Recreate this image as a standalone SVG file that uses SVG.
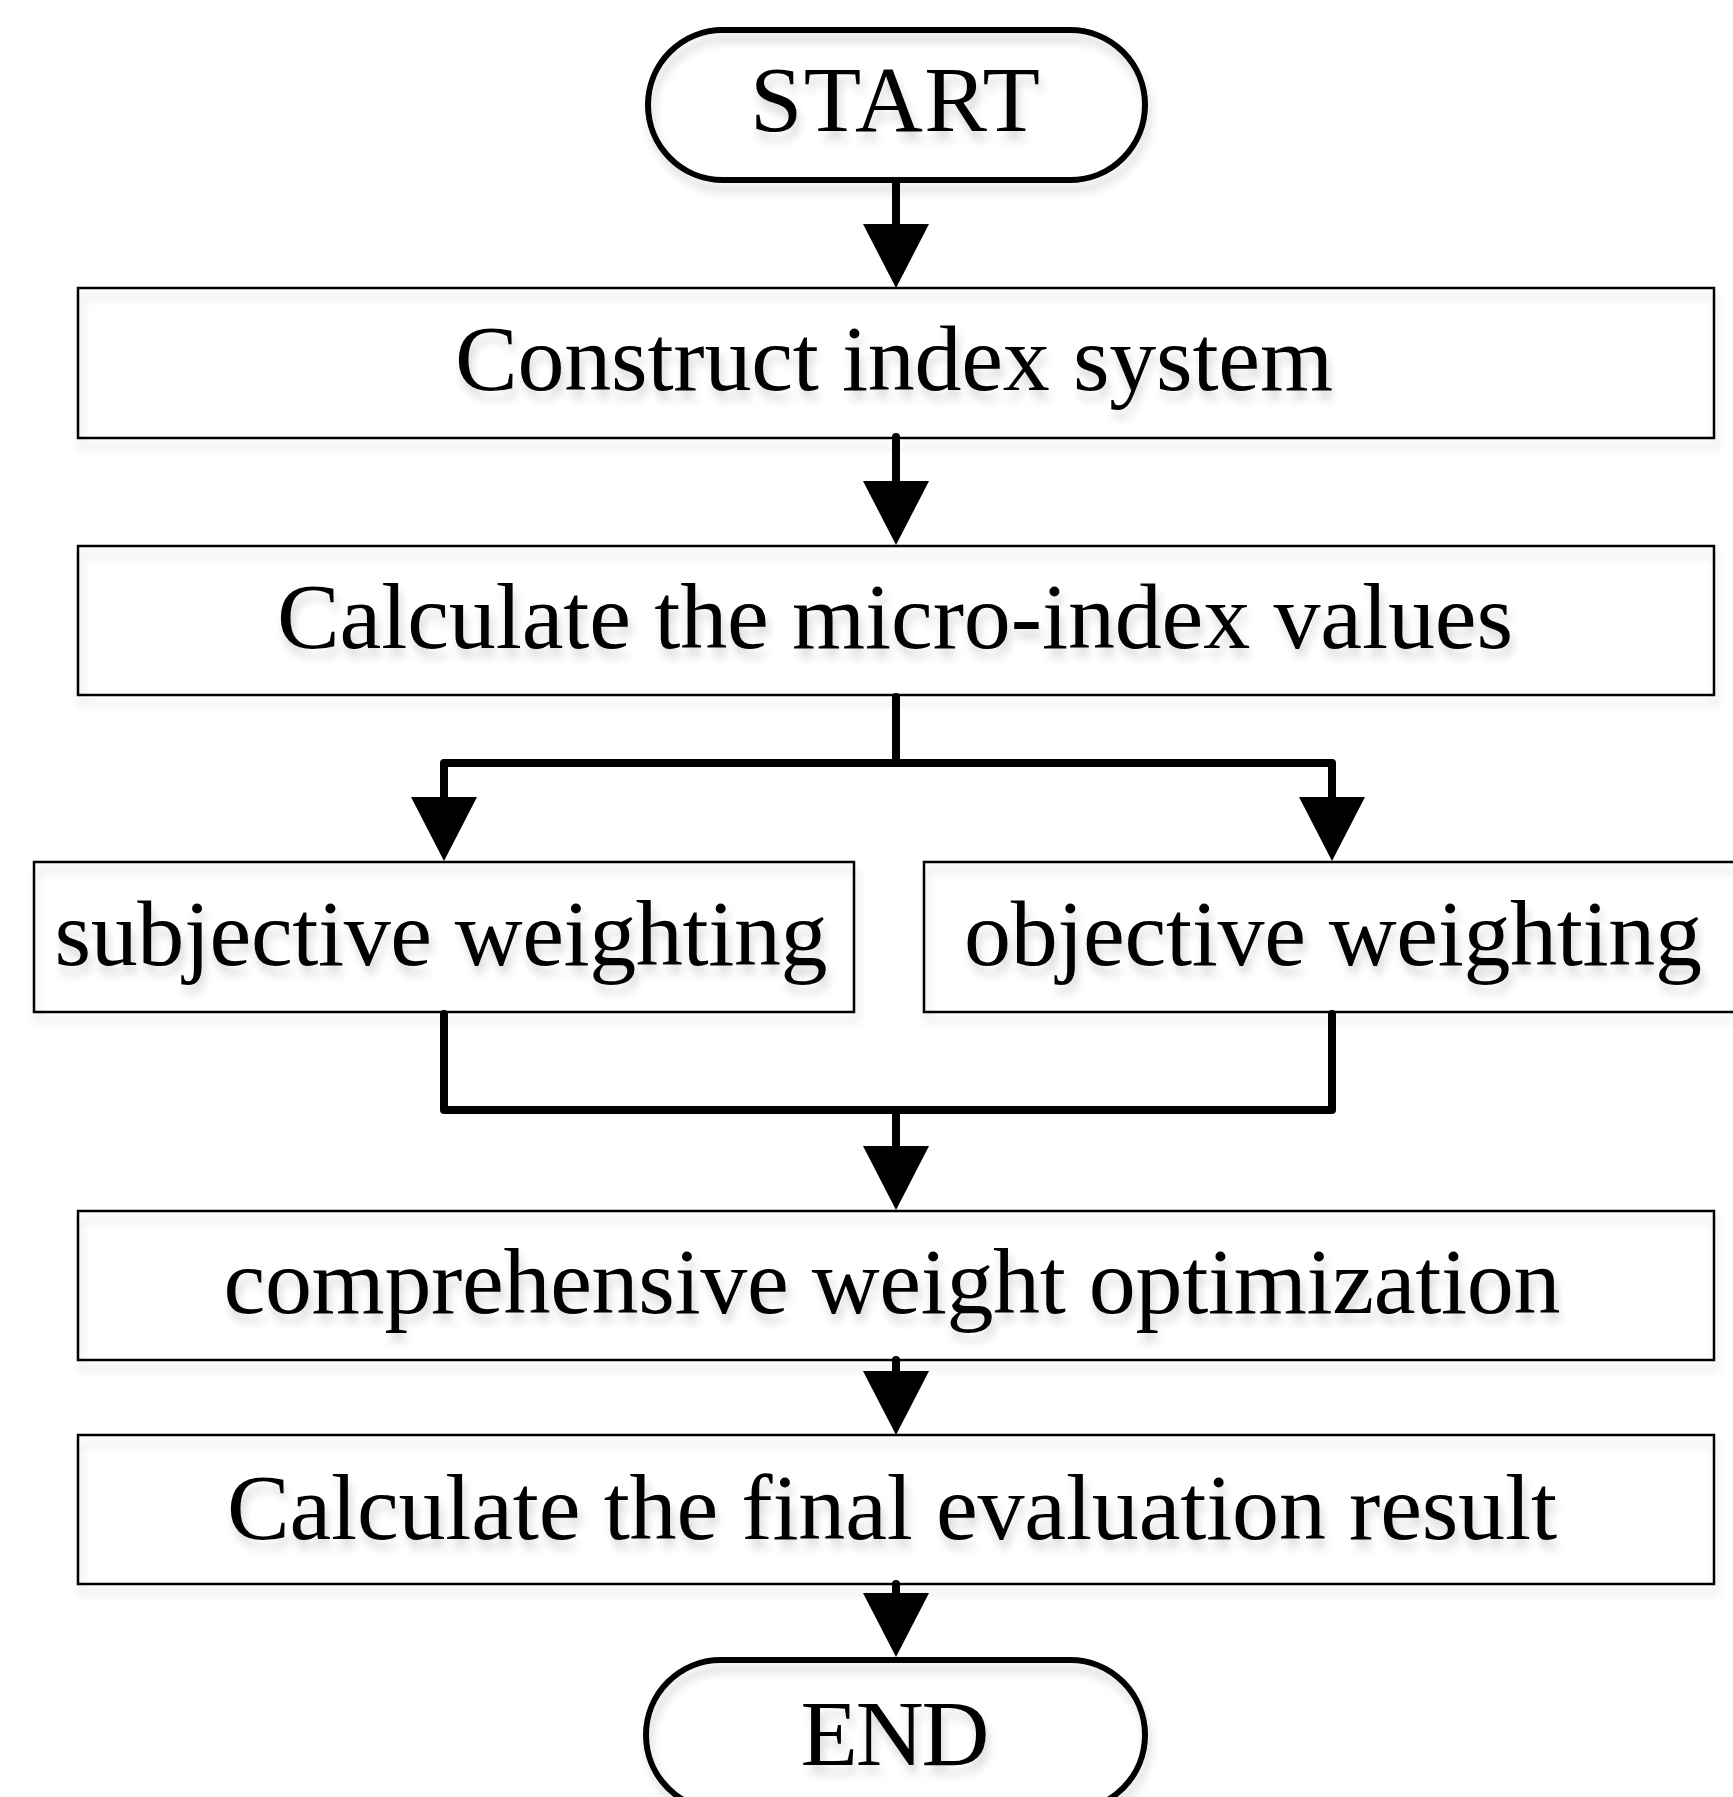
<svg xmlns="http://www.w3.org/2000/svg" xmlns:xlink="http://www.w3.org/1999/xlink" width="1733" height="1797" viewBox="0 0 1733 1797">
<style>
  .box{fill:none;stroke:#000;stroke-width:2.5}
  .term{fill:none;stroke:#000;stroke-width:6}
  .lbl{font-family:"Liberation Serif","Times New Roman",serif;font-size:94px;fill:#000;text-anchor:middle}
  .con{fill:none;stroke:#000;stroke-width:8;stroke-linecap:round;stroke-linejoin:round}
  .head{fill:#000}
</style>
<defs>
  <filter id="sh" x="-10%" y="-30%" width="120%" height="170%">
    <feGaussianBlur in="SourceAlpha" stdDeviation="5" result="b"/>
    <feOffset in="b" dx="3" dy="9" result="o"/>
    <feComponentTransfer in="o" result="s"><feFuncA type="linear" slope="0.16"/></feComponentTransfer>
    <feMerge><feMergeNode in="s"/><feMergeNode in="SourceGraphic"/></feMerge>
  </filter>
  <path id="ah" d="M-33,0 L33,0 L0,64 Z"/>
</defs>
<rect width="1733" height="1797" fill="#fff"/>

<g id="start" filter="url(#sh)">
  <rect class="term" x="648" y="30" width="497" height="150" rx="75" ry="75"/>
  <text class="lbl" x="895" y="131" textLength="290" lengthAdjust="spacing">START</text>
</g>
<g id="construct" filter="url(#sh)">
  <rect class="box" x="78" y="288" width="1636" height="150"/>
  <text class="lbl" x="894" y="390" textLength="878" lengthAdjust="spacing">Construct index system</text>
</g>
<g id="calc-micro" filter="url(#sh)">
  <rect class="box" x="78" y="546" width="1636" height="149"/>
  <text class="lbl" x="895" y="648" textLength="1236" lengthAdjust="spacing">Calculate the micro-index values</text>
</g>
<g id="subjective" filter="url(#sh)">
  <rect class="box" x="34" y="862" width="820" height="150"/>
  <text class="lbl" x="441" y="965" textLength="773" lengthAdjust="spacing">subjective weighting</text>
</g>
<g id="objective" filter="url(#sh)">
  <rect class="box" x="924" y="862" width="820" height="150"/>
  <text class="lbl" x="1333" y="965" textLength="738" lengthAdjust="spacing">objective weighting</text>
</g>
<g id="comprehensive" filter="url(#sh)">
  <rect class="box" x="78" y="1211" width="1636" height="149"/>
  <text class="lbl" x="892" y="1313" textLength="1337" lengthAdjust="spacing">comprehensive weight optimization</text>
</g>
<g id="final" filter="url(#sh)">
  <rect class="box" x="78" y="1435" width="1636" height="149"/>
  <text class="lbl" x="892" y="1539" textLength="1330" lengthAdjust="spacing">Calculate the final evaluation result</text>
</g>
<g id="end" filter="url(#sh)">
  <rect class="term" x="646" y="1660" width="499" height="150" rx="75" ry="75"/>
  <text class="lbl" x="895" y="1765" textLength="189" lengthAdjust="spacing">END</text>
</g>

<g id="connectors">
  <path class="con" d="M896,183 V226"/>
  <use xlink:href="#ah" class="head" transform="translate(896,224)"/>
  <path class="con" d="M896,437 V482"/>
  <use xlink:href="#ah" class="head" transform="translate(896,481)"/>
  <path class="con" d="M896,697 V763 M444,799 V763 H1332 V799"/>
  <use xlink:href="#ah" class="head" transform="translate(444,797)"/>
  <use xlink:href="#ah" class="head" transform="translate(1332,797)"/>
  <path class="con" d="M444,1014 V1110 H1332 V1014 M896,1110 V1148"/>
  <use xlink:href="#ah" class="head" transform="translate(896,1146)"/>
  <path class="con" d="M896,1360 V1374"/>
  <use xlink:href="#ah" class="head" transform="translate(896,1371)"/>
  <path class="con" d="M896,1584 V1595"/>
  <use xlink:href="#ah" class="head" transform="translate(896,1593)"/>
</g>
</svg>
